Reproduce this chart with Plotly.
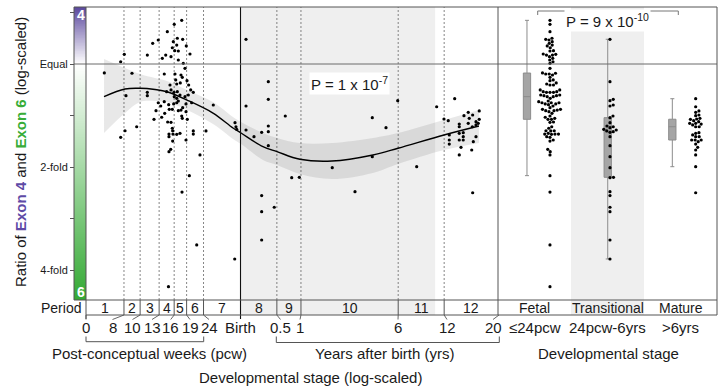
import numpy as np
import plotly.graph_objects as go

FONT = "Liberation Sans, Arial, Helvetica, sans-serif"
W, H = 722, 388

# ---------------- data ----------------
# sample age as natural log of post-conceptual weeks, and log2(Exon4 / Exon6)
age_ln_pcw = [
    1.808, 2.034, 2.084, 2.190, 2.402, 2.476, 2.553, 2.678, 2.774, 2.877,
    2.609, 2.656, 2.729, 2.761, 2.747, 2.808, 2.830, 2.890, 2.940, 2.991,
    2.780, 2.816, 2.830, 2.899, 2.922, 2.636, 2.784, 2.867, 2.885, 2.794,
    2.715, 2.808, 2.857, 2.950, 2.973, 3.001, 3.037, 2.107, 2.402, 2.402,
    2.669, 2.729, 2.770, 2.816, 2.853, 2.774, 2.808, 2.922, 2.968, 2.553,
    2.636, 2.587, 2.697, 2.766, 2.808, 2.830, 2.936, 3.014, 2.522, 2.642,
    2.705, 2.747, 2.830, 2.867, 2.890, 2.936, 2.494, 2.600, 2.877, 2.885,
    2.954, 2.683, 2.729, 2.034, 2.094, 2.255, 2.747, 2.752, 2.701, 2.701,
    2.756, 2.808, 2.853, 3.037, 3.037, 2.936, 2.752, 2.725, 2.701, 3.129,
    2.982, 2.881, 3.084, 2.694,
    3.212, 3.313, 3.613, 3.626, 3.636, 3.609, 3.765, 3.765, 3.765, 3.875,
    3.981, 4.073, 4.073, 4.073, 4.073, 4.073, 3.981, 3.981, 4.155, 3.981,
    4.307, 4.396, 4.501, 4.956, 5.270, 5.509, 5.698, 5.860, 5.509,
    6.122, 6.398, 6.499, 6.558, 6.647, 6.572, 6.572, 6.572, 6.710, 6.710,
    6.710, 6.710, 6.710, 6.765, 6.765, 6.765, 6.775, 6.834, 6.834, 6.848,
    6.890, 6.895, 6.941, 6.941, 6.941, 6.904, 6.882, 6.986, 6.986, 6.972,
    6.895, 6.734,
]
log2_ratio = [
    -0.087, 0.022, 0.094, -0.090, 0.087, 0.201, 0.233, 0.314, 0.385, 0.424,
    0.055, 0.087, 0.071, 0.217, 0.158, 0.184, 0.126, 0.240, 0.175, 0.097,
    0.129, 0.250, 0.039, 0.007, -0.042, -0.097, -0.097, -0.107, -0.129, -0.155,
    -0.204, -0.194, -0.184, -0.162, -0.204, -0.252, -0.275, -0.308, -0.275, -0.308,
    -0.269, -0.252, -0.275, -0.269, -0.301, -0.317, -0.333, -0.317, -0.301, -0.376,
    -0.366, -0.408, -0.395, -0.388, -0.376, -0.359, -0.388, -0.376, -0.453, -0.479,
    -0.440, -0.440, -0.453, -0.447, -0.424, -0.463, -0.537, -0.517, -0.505, -0.527,
    -0.537, -0.563, -0.566, -0.712, -0.648, -0.609, -0.624, -0.648, -0.680, -0.706,
    -0.680, -0.683, -0.673, -0.650, -0.680, -0.738, -0.748, -0.828, -0.851, -0.883,
    -1.084, -1.243, -1.757, -2.162,
    -0.650, -0.398, -0.570, -0.609, -0.634, -1.893, 0.240, -0.408, -0.641, -0.706,
    -0.663, -0.172, -0.343, -0.602, -0.657, -0.793, -1.277, -1.434, -1.391, -1.709,
    -0.505, -1.104, -1.100, -1.007, -1.240, -0.521, -0.618, -0.356, -0.900,
    -0.997, -0.415, -0.534, -0.550, -0.337, -0.689, -0.738, -0.777, -0.583, -0.609,
    -0.673, -0.738, -0.883, -0.667, -0.706, -0.738, -0.502, -0.469, -0.576, -0.527,
    -0.609, -0.495, -0.560, -0.592, -0.706, -0.754, -0.835, -0.456, -0.537, -0.576,
    -1.250, -0.809,
]

# smoothed trend and its confidence band
fit_ln_pcw = [1.804, 2.094, 2.301, 2.508, 2.674, 2.950, 3.309, 3.585, 3.696,
              3.999, 4.193, 4.510, 4.952, 5.518, 5.864, 6.499, 6.982]
fit_log2 = [-0.317, -0.243, -0.236, -0.248, -0.269, -0.350, -0.476, -0.621, -0.670,
            -0.803, -0.851, -0.925, -0.942, -0.883, -0.818, -0.689, -0.602]
fit_upper = [0.049, -0.039, -0.097, -0.136, -0.165, -0.252, -0.369, -0.515, -0.563,
             -0.670, -0.718, -0.767, -0.767, -0.718, -0.670, -0.544, -0.447]
fit_lower = [-0.670, -0.476, -0.369, -0.359, -0.369, -0.447, -0.583, -0.728, -0.777,
             -0.932, -0.981, -1.068, -1.117, -1.058, -0.971, -0.835, -0.767]

WEEKS_PER_YEAR = 52.18
BIRTH_PCW = 40
period_bounds_pcw = [8, 10, 13, 16, 19, 24, BIRTH_PCW,
                     BIRTH_PCW + 0.5 * WEEKS_PER_YEAR, BIRTH_PCW + 1 * WEEKS_PER_YEAR,
                     BIRTH_PCW + 6 * WEEKS_PER_YEAR, BIRTH_PCW + 12 * WEEKS_PER_YEAR]
period_labels = [str(i) for i in range(1, 13)]
age_tick_labels = ["0", "8", "10", "13", "16", "19", "24", "Birth", "0.5", "1", "6", "12", "20"]
stage_names = ["Fetal", "Transitional", "Mature"]
stage_ranges = ["≤24pcw", "24pcw-6yrs", ">6yrs"]
y_tickvals = [0, -1, -2]
y_ticktext = ["Equal", "2-fold", "4-fold"]
y_minor_tickvals = [0.5, -0.5, -1.5]
p_trend = "P = 1 x 10<sup>-7</sup>"
p_stage = "P = 9 x 10<sup>-10</sup>"
shade_end_years = 10.5

# ---------------- layout helpers ----------------
def X(px):
    return px / W

def Y(py):
    return 1 - py / H

XMIN, XMAX = 1.555, 7.245
YMIN, YMAX = -2.2913, 0.5534
Y_PX_PER_UNIT = 103.0
X2_PX_PER_UNIT = 73.0
DARK = "#1a1a1a"
FRAME = "#555555"

ages = np.array(age_ln_pcw)
ratios = np.array(log2_ratio)
ln_bounds = np.log(period_bounds_pcw)
ln_birth = np.log(BIRTH_PCW)

fetal = ratios[ages <= np.log(24)]
trans = ratios[(ages > np.log(24)) & (ages <= np.log(period_bounds_pcw[9]))]
mature = ratios[ages > np.log(period_bounds_pcw[9])]

fig = go.Figure()

# colour bar (log2 ratio gradient)
ys = np.linspace(YMIN, YMAX, 400)
wpos = (0 - YMIN) / (YMAX - YMIN)
fig.add_trace(go.Heatmap(
    x=[0, 1], y=ys, z=[[v, v] for v in ys], xaxis="x3", yaxis="y",
    colorscale=[[0, "#33a933"], [wpos, "#ffffff"], [1, "#5a479d"]],
    zmin=YMIN, zmax=YMAX, showscale=False, hoverinfo="skip"))

# confidence band
fig.add_trace(go.Scatter(x=fit_ln_pcw, y=fit_upper, mode="lines",
                         line=dict(width=0, shape="spline"), hoverinfo="skip", showlegend=False))
fig.add_trace(go.Scatter(x=fit_ln_pcw, y=fit_lower, mode="lines", fill="tonexty",
                         fillcolor="rgba(0,0,0,0.09)",
                         line=dict(width=0, shape="spline"), hoverinfo="skip", showlegend=False))
fig.add_trace(go.Scatter(x=fit_ln_pcw, y=fit_log2, mode="lines",
                         line=dict(color="black", width=1.4, shape="spline"),
                         hoverinfo="skip", showlegend=False))
# samples
fig.add_trace(go.Scatter(x=age_ln_pcw, y=log2_ratio, mode="markers",
                         marker=dict(color="black", size=3.2), showlegend=False))


# right panel: boxes and beeswarms
def box_stats(v):
    v = np.sort(v)
    q1, med, q3 = np.percentile(v, [25, 50, 75])
    iqr = q3 - q1
    lf = v[v >= q1 - 1.5 * iqr].min()
    uf = v[v <= q3 + 1.5 * iqr].max()
    return q1, med, q3, lf, uf


def swarm(vals, d=3.3):
    order = np.argsort(vals)
    placed = []
    offs = np.zeros(len(vals))
    for i in order:
        yv = vals[i] * Y_PX_PER_UNIT
        best = 0.0
        for step in np.arange(0, 40, 0.25):
            found = False
            for s in ([0.0] if step == 0 else [step, -step]):
                if all((s - a) ** 2 + (yv - b) ** 2 >= d * d for a, b in placed):
                    best = s
                    found = True
                    break
            if found:
                break
        placed.append((best, yv))
        offs[i] = best
    return offs / X2_PX_PER_UNIT


groups = [fetal, trans, mature]
box_pos = [0.397, 1.503, 2.388]
swarm_pos = [0.712, 1.534, 2.708]
for g, bp, sp in zip(groups, box_pos, swarm_pos):
    q1, med, q3, lf, uf = box_stats(g)
    fig.add_trace(go.Box(x=[bp], q1=[q1], median=[med], q3=[q3], lowerfence=[lf], upperfence=[uf],
                         xaxis="x2", yaxis="y", width=0.1, whiskerwidth=0.55,
                         fillcolor="#a5a5a5", line=dict(color="#8c8c8c", width=1),
                         boxpoints=False, showlegend=False, hoverinfo="skip"))
    offs = swarm(g)
    fig.add_trace(go.Scatter(x=sp + offs, y=g, xaxis="x2", yaxis="y", mode="markers",
                             marker=dict(color="black", size=3.2), showlegend=False, hoverinfo="skip"))

# ---------------- shapes ----------------
shapes = []


def line(x0, y0, x1, y1, color=FRAME, width=1, dash=None, xref="paper", yref="paper", layer="above"):
    shapes.append(dict(type="line", x0=x0, y0=y0, x1=x1, y1=y1, xref=xref, yref=yref,
                       layer=layer, line=dict(color=color, width=width, dash=dash)))


shade_end = np.log(BIRTH_PCW + shade_end_years * WEEKS_PER_YEAR)
shapes.append(dict(type="rect", xref="x", yref="paper", x0=ln_birth, x1=shade_end,
                   y0=Y(315), y1=Y(7), fillcolor="#efefef", line=dict(width=0), layer="below"))
shapes.append(dict(type="rect", xref="x2", yref="paper", x0=1, x1=2,
                   y0=Y(315), y1=Y(7), fillcolor="#efefef", line=dict(width=0), layer="below"))

for b in ln_bounds:
    if abs(b - ln_birth) < 1e-9:
        line(b, Y(319), b, Y(7), color="#111111", width=1.1, xref="x")
    else:
        line(b, Y(300), b, Y(7), color="#666666", width=0.8, dash="2px,2px", xref="x", layer="below")
        line(b, Y(315), b, Y(300), color=FRAME, width=1, xref="x")

# Equal line
line(X(74), 0, X(717), 0, color="#6a6a6a", width=1, yref="y")
# frame
line(X(74), Y(7), X(717), Y(7))
line(X(717), Y(7), X(717), Y(315))
line(X(74), Y(300), X(717), Y(300))
line(X(86), Y(315), X(717), Y(315))
line(X(86), Y(7), X(86), Y(319))
line(X(74), Y(7), X(74), Y(300))
line(X(498), Y(7), X(498), Y(315))

# connectors from period boundaries to age labels
label_px = [86, 112.5, 132.5, 152, 170.7, 190, 209, 241, 280.5, 300, 398, 447, 493]
bound_px = [86] + [86 + (b - XMIN) / (XMAX - XMIN) * 412 for b in ln_bounds] + [499]
for bpx, lpx in zip(bound_px, label_px):
    if abs(bpx - 241) < 1:
        continue
    line(X(bpx), Y(315), X(lpx), Y(319.5), width=0.9)

# brackets
shapes.append(dict(type="path", xref="paper", yref="paper",
                   path=f"M {X(86)},{Y(336.5)} L {X(86)},{Y(341.7)} L {X(203.7)},{Y(341.7)} L {X(203.7)},{Y(336.5)}",
                   line=dict(color=FRAME, width=1)))
shapes.append(dict(type="path", xref="paper", yref="paper",
                   path=f"M {X(276.3)},{Y(336.5)} L {X(276.3)},{Y(342.5)} L {X(499.3)},{Y(342.5)} L {X(499.3)},{Y(336.5)}",
                   line=dict(color=FRAME, width=1)))
shapes.append(dict(type="path", xref="paper", yref="paper",
                   path=f"M {X(537.7)},{Y(15)} L {X(537.7)},{Y(11)} L {X(678.3)},{Y(11)} L {X(678.3)},{Y(15)}",
                   line=dict(color="#777777", width=1)))

# ---------------- annotations ----------------
ann = []


def txt(x, y, s, size=15, xanchor="center", yanchor="middle", color=DARK, xref="paper", yref="paper", **kw):
    ann.append(dict(x=x, y=y, xref=xref, yref=yref, text=s, showarrow=False,
                    font=dict(size=size, color=color, family=FONT),
                    xanchor=xanchor, yanchor=yanchor, **kw))


# period row
txt(X(83), Y(307.5), "Period", size=14, xanchor="right")
edges = [XMIN] + list(ln_bounds) + [XMAX]
for i, lab in enumerate(period_labels):
    txt((edges[i] + edges[i + 1]) / 2, Y(307.5), lab, size=14, xref="x")
for i, lab in enumerate(stage_names):
    txt(i + 0.5, Y(307.5), lab, size=14, xref="x2")

# age labels
for lab, lpx in zip(age_tick_labels, label_px):
    txt(X(lpx), Y(327.5), lab, size=15)
for i, lab in enumerate(stage_ranges):
    txt(i + 0.5, Y(327.5), lab, size=15, xref="x2")

txt(X(149.5), Y(353), "Post-conceptual weeks (pcw)", size=15)
txt(X(385.5), Y(353.3), "Years after birth (yrs)", size=15)
txt(X(608), Y(353.3), "Developmental stage", size=15)
txt(X(310), Y(377), "Developmental stage (log-scaled)", size=15)

txt(X(21), Y(152),
    "Ratio of <span style='color:#5e4aa6'><b>Exon 4</b></span> and "
    "<span style='color:#38ad38'><b>Exon 6</b></span> (log-scaled)",
    size=15, textangle=-90)

txt(X(80.5), Y(15.5), "<b>4</b>", size=14, color="white")
txt(X(80.5), Y(292), "<b>6</b>", size=14, color="white")

txt(X(349.5), Y(83), p_trend, size=15, bgcolor="white", borderpad=1)
txt(X(607.5), Y(20), p_stage, size=15, bgcolor="white", borderpad=1)

fig.update_layout(
    width=W, height=H, autosize=False,
    margin=dict(l=0, r=0, t=0, b=0, pad=0),
    paper_bgcolor="white", plot_bgcolor="rgba(0,0,0,0)",
    font=dict(family=FONT, color=DARK),
    showlegend=False,
    shapes=shapes, annotations=ann,
    xaxis=dict(domain=[X(86), X(498)], range=[XMIN, XMAX], visible=False, anchor="y"),
    xaxis2=dict(domain=[X(498), X(717)], range=[0, 3], visible=False, anchor="y"),
    xaxis3=dict(domain=[X(74), X(86)], range=[-0.5, 1.5], visible=False, anchor="y"),
    yaxis=dict(domain=[Y(300), Y(7)], range=[YMIN, YMAX], anchor="free", position=X(74),
               tickmode="array", tickvals=y_tickvals, ticktext=y_ticktext,
               ticks="outside", ticklen=4, tickwidth=1, tickcolor=FRAME,
               minor=dict(tickmode="array", tickvals=y_minor_tickvals, ticks="outside",
                          ticklen=4, tickwidth=1, tickcolor=FRAME, showgrid=False),
               showline=False, showgrid=False, zeroline=False,
               tickfont=dict(size=11, color=DARK, family=FONT)),
)

fig.write_html(
    "out.html",
    config={"responsive": False, "displayModeBar": False},
    post_script="document.body.style.margin='0px';document.body.style.padding='0px';"
                "document.body.style.overflow='hidden';",
)
